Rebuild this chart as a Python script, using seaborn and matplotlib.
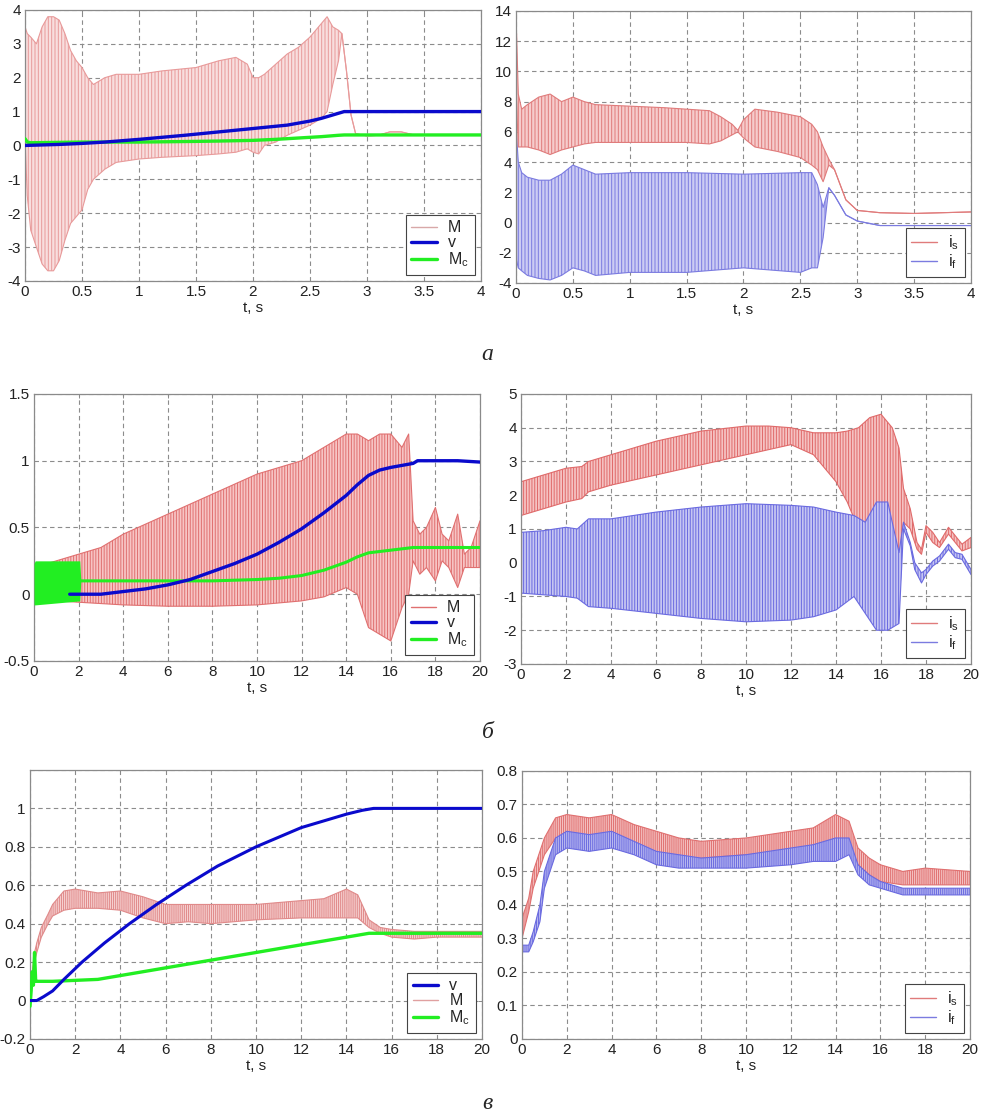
import matplotlib
matplotlib.use("Agg")
import matplotlib.pyplot as plt
from matplotlib.lines import Line2D
import seaborn as sns

# ---------------- row a (0..4 s) ----------------
t_M_a = [0, 0.02, 0.05, 0.1, 0.15, 0.2, 0.25, 0.3, 0.35, 0.4, 0.45, 0.5, 0.55, 0.6, 0.7, 0.8,
         1.0, 1.2, 1.5, 1.7, 1.85, 1.95, 2.0, 2.05, 2.1, 2.2, 2.3, 2.4, 2.5, 2.6, 2.65, 2.7,
         2.75, 2.78, 2.82, 2.86, 2.9, 3.0, 3.1, 3.2, 3.3, 3.4, 3.5, 4.0]
M_a_hi = [3.5, 3.3, 3.2, 3.0, 3.5, 3.8, 3.8, 3.7, 3.3, 2.8, 2.5, 2.3, 2.0, 1.8, 2.0, 2.1,
          2.1, 2.2, 2.3, 2.5, 2.6, 2.4, 2.0, 2.0, 2.1, 2.4, 2.7, 2.9, 3.2, 3.6, 3.8, 3.5,
          3.4, 3.3, 2.2, 0.9, 0.35, 0.28, 0.3, 0.4, 0.4, 0.32, 0.3, 0.3]
M_a_lo = [0.2, -1.5, -2.5, -3.0, -3.5, -3.7, -3.7, -3.4, -2.8, -2.3, -2.1, -1.9, -1.3, -1.0, -0.7, -0.5,
          -0.4, -0.35, -0.3, -0.25, -0.2, -0.1, -0.2, -0.25, 0.0, 0.1, 0.3, 0.45, 0.6, 0.8, 1.0, 1.8,
          2.5, 3.3, 2.2, 0.9, 0.35, 0.28, 0.3, 0.4, 0.4, 0.32, 0.3, 0.3]
t_v_a = [0, 0.3, 0.5, 0.7, 1.0, 1.4, 1.7, 2.0, 2.3, 2.5, 2.6, 2.7, 2.8, 3.0, 4.0]
v_a = [0.0, 0.03, 0.06, 0.1, 0.18, 0.3, 0.4, 0.5, 0.6, 0.72, 0.8, 0.9, 1.0, 1.0, 1.0]
t_Mc_a = [0, 0.02, 0.05, 0.5, 1.0, 1.5, 1.7, 2.0, 2.2, 2.4, 2.6, 2.75, 2.8, 4.0]
Mc_a = [0.2, 0.1, 0.08, 0.1, 0.1, 0.12, 0.13, 0.15, 0.18, 0.22, 0.26, 0.3, 0.31, 0.31]

t_is_a = [0, 0.005, 0.02, 0.05, 0.1, 0.2, 0.3, 0.4, 0.5, 0.6, 0.7, 1.0, 1.3, 1.5, 1.7, 1.8,
          1.9, 1.95, 2.0, 2.1, 2.3, 2.5, 2.6, 2.65, 2.7, 2.75, 2.8, 2.85, 2.9, 3.0, 3.2, 3.5, 4.0]
is_a_hi = [12.5, 12.5, 8.5, 7.5, 7.8, 8.3, 8.5, 8.0, 8.3, 8.0, 7.8, 7.7, 7.6, 7.5, 7.4, 7.0,
           6.5, 6.1, 6.8, 7.5, 7.3, 7.0, 6.5, 6.0, 5.0, 4.2, 3.5, 2.5, 1.5, 0.8, 0.65, 0.6, 0.7]
is_a_lo = [5.0, 8.0, 5.0, 5.0, 5.0, 4.8, 4.5, 4.8, 5.0, 5.2, 5.3, 5.3, 5.3, 5.3, 5.2, 5.4,
           5.8, 6.0, 5.6, 5.0, 4.7, 4.3, 3.8, 3.5, 2.7, 3.8, 3.5, 2.5, 1.5, 0.8, 0.65, 0.6, 0.7]
t_if_a = [0, 0.005, 0.02, 0.05, 0.1, 0.2, 0.3, 0.4, 0.5, 0.6, 0.7, 1.0, 1.5, 2.0, 2.5, 2.6,
          2.65, 2.7, 2.75, 2.8, 2.9, 3.0, 3.2, 3.5, 4.0]
if_a_hi = [5.8, 5.8, 4.0, 3.3, 3.0, 2.8, 2.8, 3.2, 3.8, 3.5, 3.2, 3.3, 3.3, 3.2, 3.3, 3.3,
           2.5, 1.0, 2.3, 1.8, 0.5, 0.1, -0.2, -0.2, -0.2]
if_a_lo = [-1.0, -2.5, -3.0, -3.2, -3.5, -3.7, -3.8, -3.5, -3.0, -3.2, -3.5, -3.3, -3.3, -3.0, -3.3, -3.0,
           -3.0, -1.0, 2.3, 1.8, 0.5, 0.1, -0.2, -0.2, -0.2]

# ---------------- row b (0..20 s) ----------------
t_M_b = [0, 1, 2, 3, 4, 6, 8, 10, 12, 13, 14, 14.5, 15, 15.5, 16, 16.5, 16.8, 17, 17.3,
         17.6, 18, 18.3, 18.6, 19, 19.3, 19.6, 20]
M_b_hi = [0.2, 0.25, 0.3, 0.35, 0.45, 0.6, 0.75, 0.9, 1.0, 1.1, 1.2, 1.2, 1.15, 1.2, 1.2, 1.1, 1.2, 0.55, 0.45,
          0.5, 0.65, 0.45, 0.4, 0.6, 0.3, 0.35, 0.55]
M_b_lo = [-0.05, -0.05, -0.06, -0.07, -0.08, -0.09, -0.09, -0.08, -0.05, -0.02, 0.05, 0.0, -0.25, -0.3, -0.35, -0.1, 0.0, 0.25, 0.15,
          0.2, 0.1, 0.25, 0.2, 0.05, 0.2, 0.2, 0.2]
t_Mc_b_band = [0, 0.05, 2.05, 2.1]
Mc_b_hi = [0.23, 0.25, 0.25, 0.1]
Mc_b_lo = [-0.08, -0.08, -0.05, 0.1]
t_Mc_b = [2.1, 6, 8, 10, 11, 12, 13, 14, 14.5, 15, 16, 17, 18, 19, 20]
Mc_b = [0.1, 0.1, 0.1, 0.11, 0.12, 0.14, 0.18, 0.24, 0.28, 0.31, 0.33, 0.35, 0.35, 0.35, 0.35]
t_v_b = [1.6, 3, 4, 5, 6, 7, 8, 9, 10, 11, 12, 13, 14, 14.5, 15, 15.5, 16, 17, 17.2, 18, 19, 20]
v_b = [0, 0, 0.02, 0.04, 0.07, 0.11, 0.17, 0.23, 0.3, 0.39, 0.49, 0.61, 0.74, 0.82, 0.89, 0.93, 0.95, 0.98, 1.0, 1.0, 1.0, 0.99]

t_is_b = [0, 1, 2, 2.7, 3, 4, 6, 8, 10, 11, 12, 13, 14, 14.5, 15, 15.5, 16, 16.5, 16.8, 17,
          17.3, 17.6, 17.8, 18, 18.3, 18.6, 19, 19.3, 19.6, 20]
is_b_hi = [2.4, 2.6, 2.8, 2.85, 3.0, 3.2, 3.6, 3.9, 4.05, 4.05, 4.0, 3.85, 3.85, 3.9, 4.0, 4.3, 4.4, 4.0, 3.4, 2.2,
           1.6, 0.6, 0.4, 1.1, 0.9, 0.6, 1.05, 0.8, 0.55, 0.75]
is_b_lo = [1.4, 1.6, 1.8, 1.9, 2.1, 2.3, 2.6, 2.9, 3.2, 3.35, 3.5, 3.2, 2.4, 1.8, 1.0, 0.5, 0.3, 0.1, 0.1, 1.2,
           1.0, 0.4, 0.25, 0.9, 0.6, 0.45, 0.85, 0.6, 0.35, 0.45]
t_if_b = [0, 1, 2, 2.5, 3, 4, 6, 8, 10, 12, 13, 14, 14.8, 15.3, 15.8, 16.3, 16.8, 17, 17.3,
          17.5, 17.8, 18, 18.3, 18.6, 19, 19.3, 19.6, 20]
if_b_hi = [0.9, 0.95, 1.05, 1.0, 1.3, 1.3, 1.5, 1.65, 1.75, 1.7, 1.65, 1.5, 1.4, 1.2, 1.8, 1.8, 0.3, 1.2, 0.6,
           0.0, -0.3, -0.2, 0.05, 0.2, 0.55, 0.3, 0.25, -0.2]
if_b_lo = [-0.9, -0.95, -1.0, -1.05, -1.3, -1.35, -1.5, -1.65, -1.75, -1.7, -1.6, -1.4, -1.0, -1.5, -2.0, -2.0, -1.8, 1.0, 0.5,
           -0.2, -0.6, -0.35, -0.1, 0.05, 0.4, 0.15, 0.1, -0.35]

# ---------------- row c (0..20 s) ----------------
t_M_c = [0, 0.1, 0.2, 0.3, 0.5, 0.8, 1.0, 1.5, 2, 3, 4, 5, 6, 7, 8, 10, 12, 13, 14, 14.5,
         15, 15.5, 16, 17, 18, 20]
M_c_hi = [0.0, 0.15, 0.25, 0.3, 0.38, 0.45, 0.5, 0.57, 0.58, 0.56, 0.57, 0.54, 0.5, 0.5, 0.5, 0.5, 0.52, 0.53, 0.58, 0.55,
          0.42, 0.38, 0.37, 0.36, 0.36, 0.36]
M_c_lo = [0.0, 0.1, 0.2, 0.25, 0.33, 0.4, 0.44, 0.47, 0.48, 0.48, 0.47, 0.43, 0.4, 0.41, 0.4, 0.42, 0.43, 0.43, 0.43, 0.43,
          0.38, 0.35, 0.33, 0.32, 0.33, 0.33]
t_v_c = [0, 0.3, 0.6, 1.0, 1.5, 2.3, 3.3, 4.4, 5.6, 6.9, 8.3, 10, 12, 14, 14.7, 15.2, 20]
v_c = [0, 0, 0.02, 0.05, 0.11, 0.2, 0.3, 0.4, 0.5, 0.6, 0.7, 0.8, 0.9, 0.97, 0.99, 1.0, 1.0]
t_Mc_c = [0, 0.05, 0.1, 0.15, 0.2, 0.25, 0.3, 1, 2, 3, 4, 6, 8, 10, 12, 14, 15, 20]
Mc_c = [-0.03, 0.05, 0.15, 0.08, 0.25, 0.1, 0.1, 0.1, 0.105, 0.11, 0.13, 0.17, 0.21, 0.25, 0.29, 0.33, 0.35, 0.35]

t_is_c = [0, 0.3, 0.5, 1.0, 1.5, 2, 3, 4, 5, 6, 7, 8, 10, 12, 13, 14, 14.6, 15, 15.5, 16, 17, 18, 20]
is_c_hi = [0.36, 0.42, 0.5, 0.6, 0.66, 0.67, 0.66, 0.67, 0.64, 0.62, 0.6, 0.59, 0.6, 0.62, 0.63, 0.67, 0.65,
           0.57, 0.54, 0.52, 0.5, 0.51, 0.5]
is_c_lo = [0.3, 0.38, 0.45, 0.55, 0.6, 0.6, 0.6, 0.6, 0.58, 0.55, 0.54, 0.54, 0.55, 0.56, 0.57, 0.58, 0.58,
           0.52, 0.49, 0.47, 0.46, 0.46, 0.46]
t_if_c = [0, 0.3, 0.5, 0.8, 1.0, 1.5, 2, 3, 4, 5, 6, 7, 8, 10, 12, 13, 14, 14.6, 15, 15.5, 16, 17, 18, 20]
if_c_hi = [0.28, 0.28, 0.32, 0.4, 0.5, 0.6, 0.62, 0.61, 0.62, 0.59, 0.56, 0.55, 0.54, 0.55, 0.57, 0.58, 0.6, 0.6,
           0.52, 0.49, 0.47, 0.45, 0.45, 0.45]
if_c_lo = [0.26, 0.26, 0.29, 0.35, 0.45, 0.55, 0.57, 0.56, 0.57, 0.55, 0.52, 0.51, 0.51, 0.51, 0.52, 0.53, 0.53, 0.55,
           0.49, 0.46, 0.45, 0.43, 0.43, 0.43]

row_labels = ["а", "б", "в"]

# ---------------- style ----------------
sns.set_theme(style="white")
plt.rcParams['font.family'] = ['Liberation Sans', 'DejaVu Sans']
plt.rcParams['hatch.linewidth'] = 0.7
plt.rcParams['axes.unicode_minus'] = False

RED_LINE = '#e07b7b'
RED_FACE = '#f6cccc'
BLUE_LINE = '#7b7be0'
BLUE_FACE = '#ccccf4'
BLUE = '#0a0acc'
GREEN = '#22ee22'

fig = plt.figure(figsize=(9.81, 11.18), dpi=100)

pos = [[0.0255, 0.7487, 0.4648, 0.2424], [0.5260, 0.7469, 0.4638, 0.2433],
       [0.0347, 0.4088, 0.4546, 0.2388], [0.5311, 0.4061, 0.4587, 0.2415],
       [0.0306, 0.0707, 0.4608, 0.2406], [0.5321, 0.0707, 0.4567, 0.2397]]
axes = [fig.add_axes(p) for p in pos]


def band(ax, t, lo, hi, line, face, hatch='||||||', alpha=1.0):
    # dense oscillation drawn as envelope band with vertical hatching
    ax.fill_between(t, lo, hi, facecolor=face, edgecolor=line, hatch=hatch,
                    linewidth=0, alpha=alpha, zorder=2)
    sns.lineplot(x=t, y=hi, ax=ax, color=line, lw=0.8, estimator=None, sort=False, zorder=2)
    sns.lineplot(x=t, y=lo, ax=ax, color=line, lw=0.8, estimator=None, sort=False, zorder=2)


def style(ax, xlim, ylim, xticks, yticks, xtl=None, ytl=None):
    ax.set_xlim(xlim)
    ax.set_ylim(ylim)
    ax.set_xticks(xticks)
    ax.set_yticks(yticks)
    if xtl:
        ax.set_xticklabels(xtl)
    if ytl:
        ax.set_yticklabels(ytl)
    ax.grid(True, color='#8c8c8c', linestyle=(0, (4, 3)), lw=0.8)
    ax.set_axisbelow(True)
    for s in ax.spines.values():
        s.set_color('#8a8a8a')
        s.set_linewidth(0.9)
    ax.tick_params(direction='in', length=3, width=0.7, color='#8a8a8a',
                   labelsize=11, labelcolor='#222222', pad=3, top=True, right=True)
    ax.set_xlabel('t, s', fontsize=11, color='#222222', labelpad=1)
    ax.set_ylabel('')


def fmt(vals):
    return [('%g' % v) for v in vals]


def legend(ax, items):
    handles = [Line2D([0], [0], color=c, lw=w) for c, w, _ in items]
    labels = [l for _, _, l in items]
    leg = ax.legend(handles, labels, loc='lower right', fontsize=11.5, frameon=True,
                    fancybox=False, borderaxespad=0.4, handlelength=1.6,
                    labelspacing=0.0, borderpad=0.35, handletextpad=0.7)
    leg.get_frame().set_edgecolor('#444444')
    leg.get_frame().set_linewidth(0.8)
    leg.get_frame().set_alpha(1)
    leg.set_zorder(10)


Mlab = 'M'
vlab = 'v'
Mclab = r'$\mathregular{M_c}$'
islab = r'$\mathregular{i_s}$'
iflab = r'$\mathregular{i_f}$'

# a left
ax = axes[0]
band(ax, t_M_a, M_a_lo, M_a_hi, '#e89a9a', '#f8dede', hatch='|||||')
sns.lineplot(x=t_v_a, y=v_a, ax=ax, color=BLUE, lw=2.4, estimator=None, zorder=4)
sns.lineplot(x=t_Mc_a, y=Mc_a, ax=ax, color=GREEN, lw=2.4, estimator=None, zorder=3)
x4 = [0, 0.5, 1, 1.5, 2, 2.5, 3, 3.5, 4]
style(ax, (0, 4), (-4, 4), x4, list(range(-4, 5)), fmt(x4))
legend(ax, [('#d8a8a8', 1.0, Mlab), (BLUE, 2.4, vlab), (GREEN, 2.4, Mclab)])

# a right
ax = axes[1]
band(ax, t_if_a, if_a_lo, if_a_hi, BLUE_LINE, BLUE_FACE, hatch='|||||')
band(ax, t_is_a, is_a_lo, is_a_hi, RED_LINE, RED_FACE, hatch='|||||')
style(ax, (0, 4), (-4, 14), x4, list(range(-4, 15, 2)), fmt(x4))
legend(ax, [(RED_LINE, 1.0, islab), (BLUE_LINE, 1.0, iflab)])

# b left
ax = axes[2]
band(ax, t_M_b, M_b_lo, M_b_hi, '#e07070', '#f7c4c4', hatch='||||||')
ax.fill_between(t_Mc_b_band, Mc_b_lo, Mc_b_hi, color=GREEN, lw=0, zorder=3)
sns.lineplot(x=t_Mc_b, y=Mc_b, ax=ax, color=GREEN, lw=2.2, estimator=None, zorder=3)
sns.lineplot(x=t_v_b, y=v_b, ax=ax, color=BLUE, lw=2.4, estimator=None, zorder=4)
x20 = list(range(0, 21, 2))
yb = [-0.5, 0, 0.5, 1, 1.5]
style(ax, (0, 20), (-0.5, 1.5), x20, yb, None, fmt(yb))
legend(ax, [('#e07070', 1.0, Mlab), (BLUE, 2.4, vlab), (GREEN, 2.4, Mclab)])

# b right
ax = axes[3]
band(ax, t_is_b, is_b_lo, is_b_hi, '#e06a6a', '#f5c2c2', hatch='||||||')
band(ax, t_if_b, if_b_lo, if_b_hi, '#6a6ae0', '#c6c6f2', hatch='||||||')
style(ax, (0, 20), (-3, 5), x20, list(range(-3, 6)))
legend(ax, [(RED_LINE, 1.0, islab), (BLUE_LINE, 1.0, iflab)])

# c left
ax = axes[4]
band(ax, t_M_c, M_c_lo, M_c_hi, '#e08a8a', '#f6d0d0', hatch='||||||||')
sns.lineplot(x=t_Mc_c, y=Mc_c, ax=ax, color=GREEN, lw=2.4, estimator=None, sort=False, zorder=3)
sns.lineplot(x=t_v_c, y=v_c, ax=ax, color=BLUE, lw=2.2, estimator=None, zorder=4)
yc = [-0.2, 0, 0.2, 0.4, 0.6, 0.8, 1]
style(ax, (0, 20), (-0.2, 1.2), x20, yc, None, fmt(yc))
ax.set_yticks([-0.2, 0, 0.2, 0.4, 0.6, 0.8, 1, 1.2], minor=False)
ax.set_yticklabels(fmt(yc) + [''])
legend(ax, [(BLUE, 2.4, vlab), ('#e0a0a0', 1.0, Mlab), (GREEN, 2.4, Mclab)])

# c right
ax = axes[5]
band(ax, t_is_c, is_c_lo, is_c_hi, '#e07070', '#f4c0c0', hatch='||||||||')
band(ax, t_if_c, if_c_lo, if_c_hi, '#6a6ae0', '#b8b8f0', hatch='||||||||')
yd = [0, 0.1, 0.2, 0.3, 0.4, 0.5, 0.6, 0.7, 0.8]
style(ax, (0, 20), (0, 0.8), x20, yd, None, fmt(yd))
legend(ax, [(RED_LINE, 1.0, islab), (BLUE_LINE, 1.0, iflab)])

# row letters
for y, lab in zip([0.6825, 0.3444, 0.0134], row_labels):
    fig.text(0.497, y, lab, ha='center', va='center', fontsize=17, style='italic',
             family=['Liberation Serif', 'DejaVu Serif'])

fig.savefig('out.png', dpi=100)
